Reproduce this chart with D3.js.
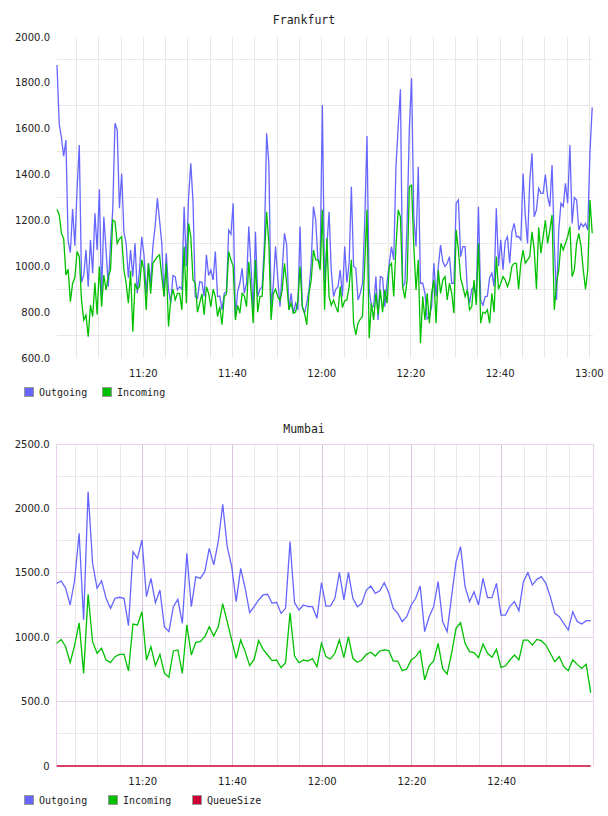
<!DOCTYPE html>
<html>
<head>
<meta charset="utf-8">
<script src="https://cdn.jsdelivr.net/npm/d3@7"></script>
<style>
  body { margin: 0; background: #fff; }
</style>
</head>
<body>
<div id="cont"></div>
<script>
// Frankfurt: one sample every 30 s, first one at 11:00:39
var frankStart = "11:00:39";
var frankStepSec = 30;
var frankOutgoing = [
  1878, 1620, 1560, 1480, 1550, 1110, 1060, 1250, 1090, 1333,
  1529, 930, 960, 1071, 911, 1115, 970, 1231, 1071, 1336,
  868, 1216, 1071, 911, 1100, 1246, 1624, 1594, 1253, 1405,
  1150, 1100, 950, 1071, 955, 1100, 882, 984, 1129, 1050,
  882, 1013, 926, 1086, 1173, 1297, 1200, 1100, 868, 1057,
  900, 839, 960, 955, 897, 911, 900, 1260, 1000, 1300,
  1449,
  1280, 868, 860, 933, 930, 868, 1050, 960, 984, 940,
  1064, 868, 870, 810, 882, 890, 1158, 1140, 1275, 781,
  890, 926, 991, 882, 926, 1173, 999, 800, 1151, 868,
  900, 911, 1100, 1580, 1450, 824, 920, 1086, 948, 824,
  984, 1144, 1093, 810, 882, 795, 839, 810, 1173, 824,
  795, 839, 897, 1013, 1260, 1202, 1028, 1013, 1703, 926,
  1086, 1238, 980, 868, 900, 911, 984, 868, 1086, 930,
  1013, 1347, 1000, 991, 853, 882, 926, 1200, 1568, 900,
  824, 824, 955, 766, 955, 950, 824, 930, 1013, 1086,
  1028, 1434, 1609, 1772, 911, 926, 1187, 1600, 1820, 1216,
  1086, 1434, 926, 926, 882, 770, 781, 824, 1013, 868,
  999, 1093, 1021, 999, 1013, 1042, 926, 926, 1275, 1289,
  1042, 1086, 1086, 897, 839, 900, 911, 868, 1260, 850,
  830, 868, 870, 950, 970, 911, 1253, 1000, 1115, 984,
  1110, 1129, 1013, 1150, 1187, 1129, 1130, 1115, 1405, 1220,
  1100, 1376, 1493, 1216, 1246, 1340, 1318, 1318, 1400, 1304,
  1260, 1442, 1100, 853, 1158, 1275, 1260, 1362, 1275, 1529,
  1187, 1300, 1289, 1158, 1187, 1173, 1187, 1158, 1500, 1693
];
var frankIncoming = [
  1249, 1224, 1144, 1120, 962, 987, 846, 926, 950, 1064,
  1042, 850, 766, 788, 693, 831, 781, 929, 790, 999,
  824, 962, 897, 955, 984, 1202, 1195, 1100, 1120, 1129,
  984, 926, 839, 980, 715, 926, 900, 911, 1028, 984,
  810, 1013, 880, 1013, 1028, 1042, 1050, 955, 868, 1013,
  737, 853, 900, 853, 882, 882, 810, 1086, 839, 1187,
  1129,
  940, 926, 800, 839, 880, 788, 911, 882, 824, 900,
  868, 781, 824, 745, 868, 880, 1064, 1028, 1000, 766,
  830, 795, 882, 870, 824, 1020, 897, 752, 1028, 800,
  868, 870, 1042, 1238, 1100, 766, 880, 900, 868, 850,
  897, 1013, 926, 810, 839, 795, 800, 850, 999, 824,
  795, 745, 882, 940, 1071, 1028, 1028, 984, 1246, 810,
  1122, 868, 830, 853, 824, 800, 911, 820, 850, 853,
  911, 1028, 752, 701, 752, 770, 781, 1013, 1246, 686,
  839, 766, 882, 790, 897, 800, 897, 839, 1000, 1013,
  868, 1086, 1246, 1216, 911, 860, 940, 1347, 1354, 1086,
  897, 1028, 664, 868, 766, 882, 752, 882, 940, 752,
  984, 882, 940, 955, 853, 926, 882, 795, 1158, 1071,
  948, 911, 868, 897, 810, 824, 940, 831, 1100, 752,
  800, 795, 810, 752, 882, 800, 1042, 900, 926, 955,
  940, 911, 940, 1000, 1013, 1013, 900, 1013, 1071, 1013,
  1028, 1042, 1150, 1071, 900, 1170, 1057, 1129, 1200, 1100,
  1158, 1224, 810, 926, 984, 1100, 1071, 1100, 1129, 1173,
  955, 984, 1100, 1144, 1086, 984, 900, 984, 1289, 1144
];

// Mumbai: one sample per minute, first one at 11:00:50
var mumbaiStart = "11:00:50";
var mumbaiStepSec = 60;
var mumbaiOutgoing = [
  1418, 1436, 1380, 1250, 1444, 1807, 1134, 2130, 1574, 1380,
  1439, 1302, 1224, 1302, 1310, 1302, 1090, 1664, 1612, 1755,
  1315, 1457, 1268, 1366, 1081, 1043, 1237, 1294, 1108, 1651,
  1237, 1470, 1457, 1509, 1690, 1561, 1742, 2031, 1703, 1548,
  1276, 1535, 1380, 1190, 1237, 1289, 1328, 1333, 1263, 1271,
  1185, 1224, 1742, 1268, 1211, 1250, 1237, 1237, 1147, 1423,
  1242, 1242, 1302, 1503, 1289, 1503, 1302, 1237, 1263, 1366,
  1397, 1341, 1361, 1423, 1346, 1224, 1185, 1121, 1159, 1250,
  1302, 1397, 1043, 1159, 1237, 1431, 1121, 1043, 1315, 1586,
  1703, 1392, 1276, 1353, 1250, 1457, 1307, 1307, 1418, 1172,
  1172, 1240, 1276, 1205, 1431, 1501, 1405, 1449, 1470, 1418,
  1315, 1185, 1159, 1108, 1056, 1198, 1121, 1103, 1128, 1128
];
var mumbaiIncoming = [
  952, 983, 926, 802, 939, 1112, 719, 1333, 965, 875,
  914, 823, 805, 849, 867, 867, 738, 1102, 1095, 1198,
  823, 926, 779, 867, 720, 689, 893, 901, 720, 1095,
  862, 960, 965, 1004, 1081, 1009, 1081, 1258, 1121, 978,
  836, 978, 888, 779, 828, 973, 906, 862, 818, 823,
  763, 802, 1190, 854, 802, 823, 815, 833, 771, 952,
  849, 831, 875, 978, 841, 1004, 836, 805, 823, 867,
  883, 854, 893, 901, 896, 815, 815, 740, 753, 823,
  849, 896, 668, 776, 815, 952, 758, 714, 875, 1069,
  1112, 952, 888, 880, 841, 947, 875, 844, 906, 766,
  776, 823, 862, 823, 978, 978, 939, 983, 973, 939,
  875, 810, 849, 771, 740, 823, 789, 758, 789, 569
];
var mumbaiQueue = [
  0, 0, 0, 0, 0, 0, 0, 0, 0, 0, 0, 0, 0, 0, 0, 0, 0, 0, 0, 0,
  0, 0, 0, 0, 0, 0, 0, 0, 0, 0, 0, 0, 0, 0, 0, 0, 0, 0, 0, 0,
  0, 0, 0, 0, 0, 0, 0, 0, 0, 0, 0, 0, 0, 0, 0, 0, 0, 0, 0, 0,
  0, 0, 0, 0, 0, 0, 0, 0, 0, 0, 0, 0, 0, 0, 0, 0, 0, 0, 0, 0,
  0, 0, 0, 0, 0, 0, 0, 0, 0, 0, 0, 0, 0, 0, 0, 0, 0, 0, 0, 0,
  0, 0, 0, 0, 0, 0, 0, 0, 0, 0, 0, 0, 0, 0, 0, 0, 0, 0, 0, 0
];

var frankYTicks = [600, 800, 1000, 1200, 1400, 1600, 1800, 2000];
var frankYGrid = [700, 900, 1100, 1300, 1500, 1700, 1900];
var mumbaiYTicks = [0, 500, 1000, 1500, 2000, 2500];
var mumbaiYMinor = [250, 750, 1250, 1750, 2250];

var seriesNames = ["Outgoing", "Incoming", "QueueSize"];
var seriesColors = ["#6666ff", "#00c000", "#cc0033"];

var parseTime = d3.timeParse("%H:%M:%S");
var fmtTime = d3.timeFormat("%H:%M");
var monoFont = "'DejaVu Sans Mono', monospace";
var sansFont = "'DejaVu Sans', sans-serif";

var svg = d3.select("#cont").append("svg")
    .attr("width", 608)
    .attr("height", 816);

function toPoints(values, start, stepSec) {
    var t0 = parseTime(start);
    return values.map(function(v, i) {
        return { t: d3.timeSecond.offset(t0, i * stepSec), v: v };
    });
}

function crisp(v) { return Math.round(v - 0.5) + 0.5; }

function drawChart(cfg) {
    var g = svg.append("g");
    var series = cfg.series.map(function(s) {
        return toPoints(s.values, cfg.start, cfg.stepSec);
    });
    var first = series[0][0].t;
    var last = series[0][series[0].length - 1].t;

    var x = d3.scaleTime().domain([first, last]).range([cfg.left, cfg.right]);
    var y = d3.scaleLinear().domain(cfg.yDomain).range([cfg.bottom, cfg.top]);

    // minor grid
    var minorX = d3.timeMinute.every(5).range(first, d3.timeSecond.offset(last, 1))
        .filter(function(d) { return !cfg.majorX || d.getMinutes() % 20 !== 0; });
    g.selectAll(".vminor").data(minorX).enter().append("line")
        .attr("x1", function(d) { return crisp(x(d)); })
        .attr("x2", function(d) { return crisp(x(d)); })
        .attr("y1", cfg.top).attr("y2", cfg.bottom)
        .attr("stroke", "#e8e8e8").attr("stroke-width", 1);
    g.selectAll(".hminor").data(cfg.yMinor).enter().append("line")
        .attr("x1", cfg.left).attr("x2", cfg.frameRight)
        .attr("y1", function(d) { return crisp(y(d)); })
        .attr("y2", function(d) { return crisp(y(d)); })
        .attr("stroke", "#e8e8e8").attr("stroke-width", 1);

    // major grid (only the lower chart has one)
    if (cfg.majorX) {
        var majorX = d3.timeMinute.every(20).range(first, last);
        g.selectAll(".vmajor").data(majorX).enter().append("line")
            .attr("x1", function(d) { return crisp(x(d)); })
            .attr("x2", function(d) { return crisp(x(d)); })
            .attr("y1", cfg.top).attr("y2", cfg.bottom)
            .attr("stroke", "#dcc4dc").attr("stroke-width", 1);
        g.selectAll(".hmajor").data(cfg.yTicks.filter(function(d) { return d > 0; }))
            .enter().append("line")
            .attr("x1", cfg.left).attr("x2", cfg.frameRight)
            .attr("y1", function(d) { return crisp(y(d)); })
            .attr("y2", function(d) { return crisp(y(d)); })
            .attr("stroke", "#ead2ea").attr("stroke-width", 1);
        [cfg.left, cfg.frameRight].forEach(function(px) {
            g.append("line")
                .attr("x1", crisp(px)).attr("x2", crisp(px))
                .attr("y1", cfg.top).attr("y2", cfg.bottom)
                .attr("stroke", "#ead2ea").attr("stroke-width", 1);
        });
    }

    // lines
    var line = d3.line()
        .x(function(d) { return x(d.t); })
        .y(function(d) { return y(d.v); });
    series.forEach(function(pts, k) {
        g.append("path")
            .datum(pts)
            .attr("d", line)
            .attr("fill", "none")
            .attr("stroke", seriesColors[k])
            .attr("stroke-width", cfg.lineWidth)
            .attr("stroke-linejoin", "miter");
    });

    // y labels
    g.selectAll(".ylab").data(cfg.yTicks).enter().append("text")
        .attr("x", cfg.left - 7)
        .attr("y", function(d) { return y(d) + 3.5; })
        .attr("text-anchor", "end")
        .attr("font-family", sansFont)
        .attr("font-size", 10)
        .attr("fill", "#222")
        .text(function(d) { return d === 0 ? "0" : d3.format(".1f")(d); });

    // x labels
    var labX = d3.timeMinute.every(20).range(first, d3.timeSecond.offset(last, 1));
    g.selectAll(".xlab").data(labX).enter().append("text")
        .attr("x", function(d) { return x(d); })
        .attr("y", cfg.bottom + 19)
        .attr("text-anchor", "middle")
        .attr("font-family", sansFont)
        .attr("font-size", 10)
        .attr("fill", "#222")
        .text(function(d) { return fmtTime(d); });

    // title
    g.append("text")
        .attr("x", 304)
        .attr("y", cfg.titleY)
        .attr("text-anchor", "middle")
        .attr("font-family", monoFont)
        .attr("font-size", 11.5)
        .attr("fill", "#222")
        .text(cfg.title);

    // legend
    var lg = g.selectAll(".leg").data(cfg.series).enter().append("g")
        .attr("transform", function(d, i) {
            return "translate(" + cfg.legendX[i] + "," + cfg.legendY + ")";
        });
    lg.append("rect")
        .attr("x", 0.5).attr("y", 0.5)
        .attr("width", 9).attr("height", 9)
        .attr("fill", function(d, i) { return seriesColors[i]; })
        .attr("stroke", "#999").attr("stroke-width", 1);
    lg.append("text")
        .attr("x", 15).attr("y", 9)
        .attr("font-family", monoFont)
        .attr("font-size", 10)
        .attr("fill", "#222")
        .text(function(d, i) { return seriesNames[i]; });
}

drawChart({
    title: "Frankfurt", titleY: 24,
    start: frankStart, stepSec: frankStepSec,
    series: [{ values: frankOutgoing }, { values: frankIncoming }],
    left: 57, right: 592.2, frameRight: 593, top: 37, bottom: 358,
    yDomain: [600, 2000], yTicks: frankYTicks, yMinor: frankYGrid,
    majorX: false, lineWidth: 1.3,
    legendX: [24, 102], legendY: 387
});

drawChart({
    title: "Mumbai", titleY: 433,
    start: mumbaiStart, stepSec: mumbaiStepSec,
    series: [{ values: mumbaiOutgoing }, { values: mumbaiIncoming }, { values: mumbaiQueue }],
    left: 56.7, right: 590.7, frameRight: 593, top: 444, bottom: 766,
    yDomain: [0, 2500], yTicks: mumbaiYTicks, yMinor: mumbaiYMinor,
    majorX: true, lineWidth: 1.3,
    legendX: [24, 108, 192], legendY: 795
});
</script>
</body>
</html>
